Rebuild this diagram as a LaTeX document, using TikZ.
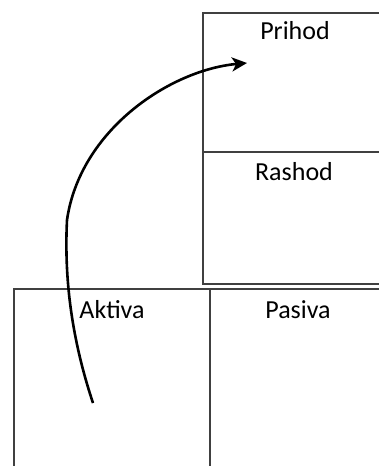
\documentclass[tikz,border=0pt]{standalone}
\usepackage{fontspec}
\setmainfont{Carlito}
\usetikzlibrary{positioning, arrows.meta}

\begin{document}
\begin{tikzpicture}[
    x=1pt, y=-1pt,
    cell/.style={draw=black!75, line width=1.6pt, rectangle, anchor=north west, inner sep=0pt},
    lbl/.style={font=\fontsize{26}{30}\selectfont, text=black, inner sep=0pt, anchor=base},
    arr/.style={-{Stealth[length=15pt, width=14pt, inset=4pt]}, line width=2.6pt, black}
]
    \useasboundingbox (0,0) rectangle (379,466);
    \clip (0,0) rectangle (379,466);

    % upper block
    \node[cell, minimum width=200pt, minimum height=139pt] (prihod) at (202,12) {};
    \node[cell, minimum width=200pt, minimum height=132pt] (rashod) at (202,151) {};
    % lower block
    \node[cell, minimum width=196pt, minimum height=200pt] (aktiva) at (13,288) {};
    \node[cell, minimum width=200pt, minimum height=200pt] (pasiva) at (209,288) {};

    \node[lbl] (prihodtxt) at (295,39) {Prihod};
    \node[lbl] (rashodtxt) at (294,180) {Rashod};
    \node[lbl] (aktivatxt) at (112,318) {Aktiva};
    \node[lbl] (pasivatxt) at (298,318) {Pasiva};

    \coordinate (from) at (93,403);
    \coordinate (to) at (247,63);
    \draw[arr] (from) .. controls (72,340) and (64,280) .. (67,220)
                      .. controls (80,130) and (170,70) .. (to);
\end{tikzpicture}
\end{document}
